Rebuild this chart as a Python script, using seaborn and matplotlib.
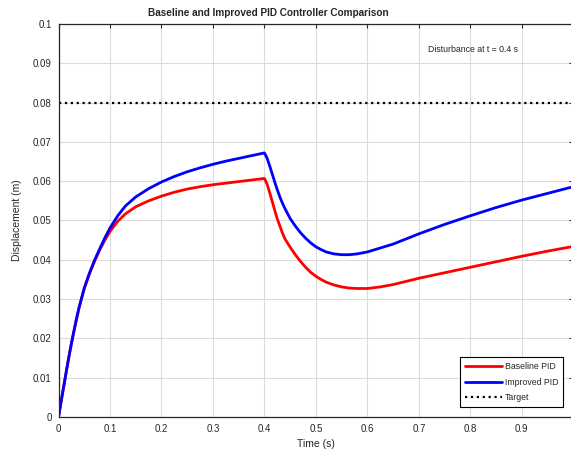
import matplotlib
matplotlib.use("Agg")
import matplotlib.pyplot as plt
import seaborn as sns
import pandas as pd

t = [0, 0.005, 0.01, 0.015, 0.02, 0.025, 0.03, 0.035, 0.04, 0.05, 0.06, 0.07, 0.08, 0.09, 0.1,
     0.115, 0.13, 0.15, 0.175, 0.2, 0.225, 0.25, 0.275, 0.3, 0.325, 0.35, 0.375, 0.4,
     0.405, 0.41, 0.415, 0.42, 0.425, 0.43, 0.435, 0.44, 0.45, 0.46, 0.47, 0.48, 0.49, 0.5,
     0.51, 0.52, 0.535, 0.55, 0.565, 0.58, 0.6, 0.625, 0.65, 0.675, 0.7, 0.75, 0.8, 0.85,
     0.9, 0.95, 1.0]
baseline = [0, 0.0039, 0.0077, 0.0115, 0.0152, 0.0187, 0.0219, 0.0250, 0.0279, 0.0327, 0.0364,
            0.0396, 0.0425, 0.0450, 0.0472, 0.0498, 0.0517, 0.0535, 0.0550, 0.0562, 0.0572,
            0.0580, 0.0586, 0.0591, 0.0595, 0.0599, 0.0603, 0.0607,
            0.0593, 0.0572, 0.0549, 0.0526, 0.0504, 0.0486, 0.0468, 0.0453, 0.0432, 0.0413,
            0.0396, 0.0381, 0.0368, 0.0358, 0.0350, 0.0343, 0.0336, 0.0331, 0.0328, 0.0327,
            0.0327, 0.0331, 0.0337, 0.0345, 0.0353, 0.0367, 0.0381, 0.0395, 0.0409, 0.0422,
            0.0434]
improved = [0, 0.0039, 0.0077, 0.0115, 0.0152, 0.0187, 0.0219, 0.0250, 0.0279, 0.0328, 0.0366,
            0.0399, 0.0428, 0.0456, 0.0481, 0.0512, 0.0537, 0.0560, 0.0581, 0.0598, 0.0612,
            0.0624, 0.0634, 0.0643, 0.0651, 0.0658, 0.0665, 0.0672,
            0.0659, 0.0640, 0.0619, 0.0598, 0.0578, 0.0560, 0.0544, 0.0530, 0.0505, 0.0486,
            0.0469, 0.0455, 0.0443, 0.0433, 0.0426, 0.0420, 0.0415, 0.0413, 0.0413, 0.0415,
            0.0420, 0.0430, 0.0440, 0.0453, 0.0466, 0.0490, 0.0512, 0.0533, 0.0552, 0.0569,
            0.0586]
target = 0.08
series_names = ["Baseline PID", "Improved PID", "Target"]
x_ticks = [0, 0.1, 0.2, 0.3, 0.4, 0.5, 0.6, 0.7, 0.8, 0.9]
y_ticks = [0, 0.01, 0.02, 0.03, 0.04, 0.05, 0.06, 0.07, 0.08, 0.09, 0.1]

sns.set_style("white")
plt.rcParams['font.family'] = ['Liberation Sans', 'DejaVu Sans']

fig = plt.figure(figsize=(5.71, 4.53), dpi=100)
ax = fig.add_axes([0.1025, 0.0795, 0.9015, 0.8675])

df = pd.DataFrame({"t": t, "Baseline": baseline, "Improved": improved})
sns.lineplot(data=df, x="t", y="Baseline", ax=ax, color="#ff0000", linewidth=2.0,
             label=series_names[0])
sns.lineplot(data=df, x="t", y="Improved", ax=ax, color="#0000ff", linewidth=2.0,
             label=series_names[1])
ax.axhline(target, color="black", linestyle=":", linewidth=1.6, label=series_names[2])

ax.set_xlim(0, 1)
ax.set_ylim(0, 0.1)
ax.set_xticks(x_ticks)
ax.set_xticklabels([f"{v:g}" for v in x_ticks])
ax.set_yticks(y_ticks)
ax.set_yticklabels([f"{v:g}" for v in y_ticks])
ax.grid(True, color="#dcdcdc", linewidth=0.8)
ax.tick_params(direction="in", length=3, width=0.8, labelsize=7, colors="#262626",
               top=True, right=True, pad=5)
for s in ax.spines.values():
    s.set_color("#262626")
    s.set_linewidth(0.9)

ax.set_xlabel("Time (s)", fontsize=7.5, labelpad=4)
ax.set_ylabel("Displacement (m)", fontsize=7.5, labelpad=8)
ax.set_title("Baseline and Improved PID Controller Comparison", fontsize=7.2,
             fontweight="bold", pad=6, x=0.407)
ax.text(0.805, 0.0936, "Disturbance at t = 0.4 s", fontsize=6.3, ha="center", va="center")

leg = ax.legend(loc="lower right", bbox_to_anchor=(0.98, 0.025), fontsize=6.3,
                frameon=True, fancybox=False, edgecolor="black", framealpha=1,
                handlelength=4.2, borderpad=0.55, labelspacing=0.75, handletextpad=0.3,
                borderaxespad=0.0)
leg.get_frame().set_linewidth(0.8)

fig.savefig("out.png", dpi=100)
